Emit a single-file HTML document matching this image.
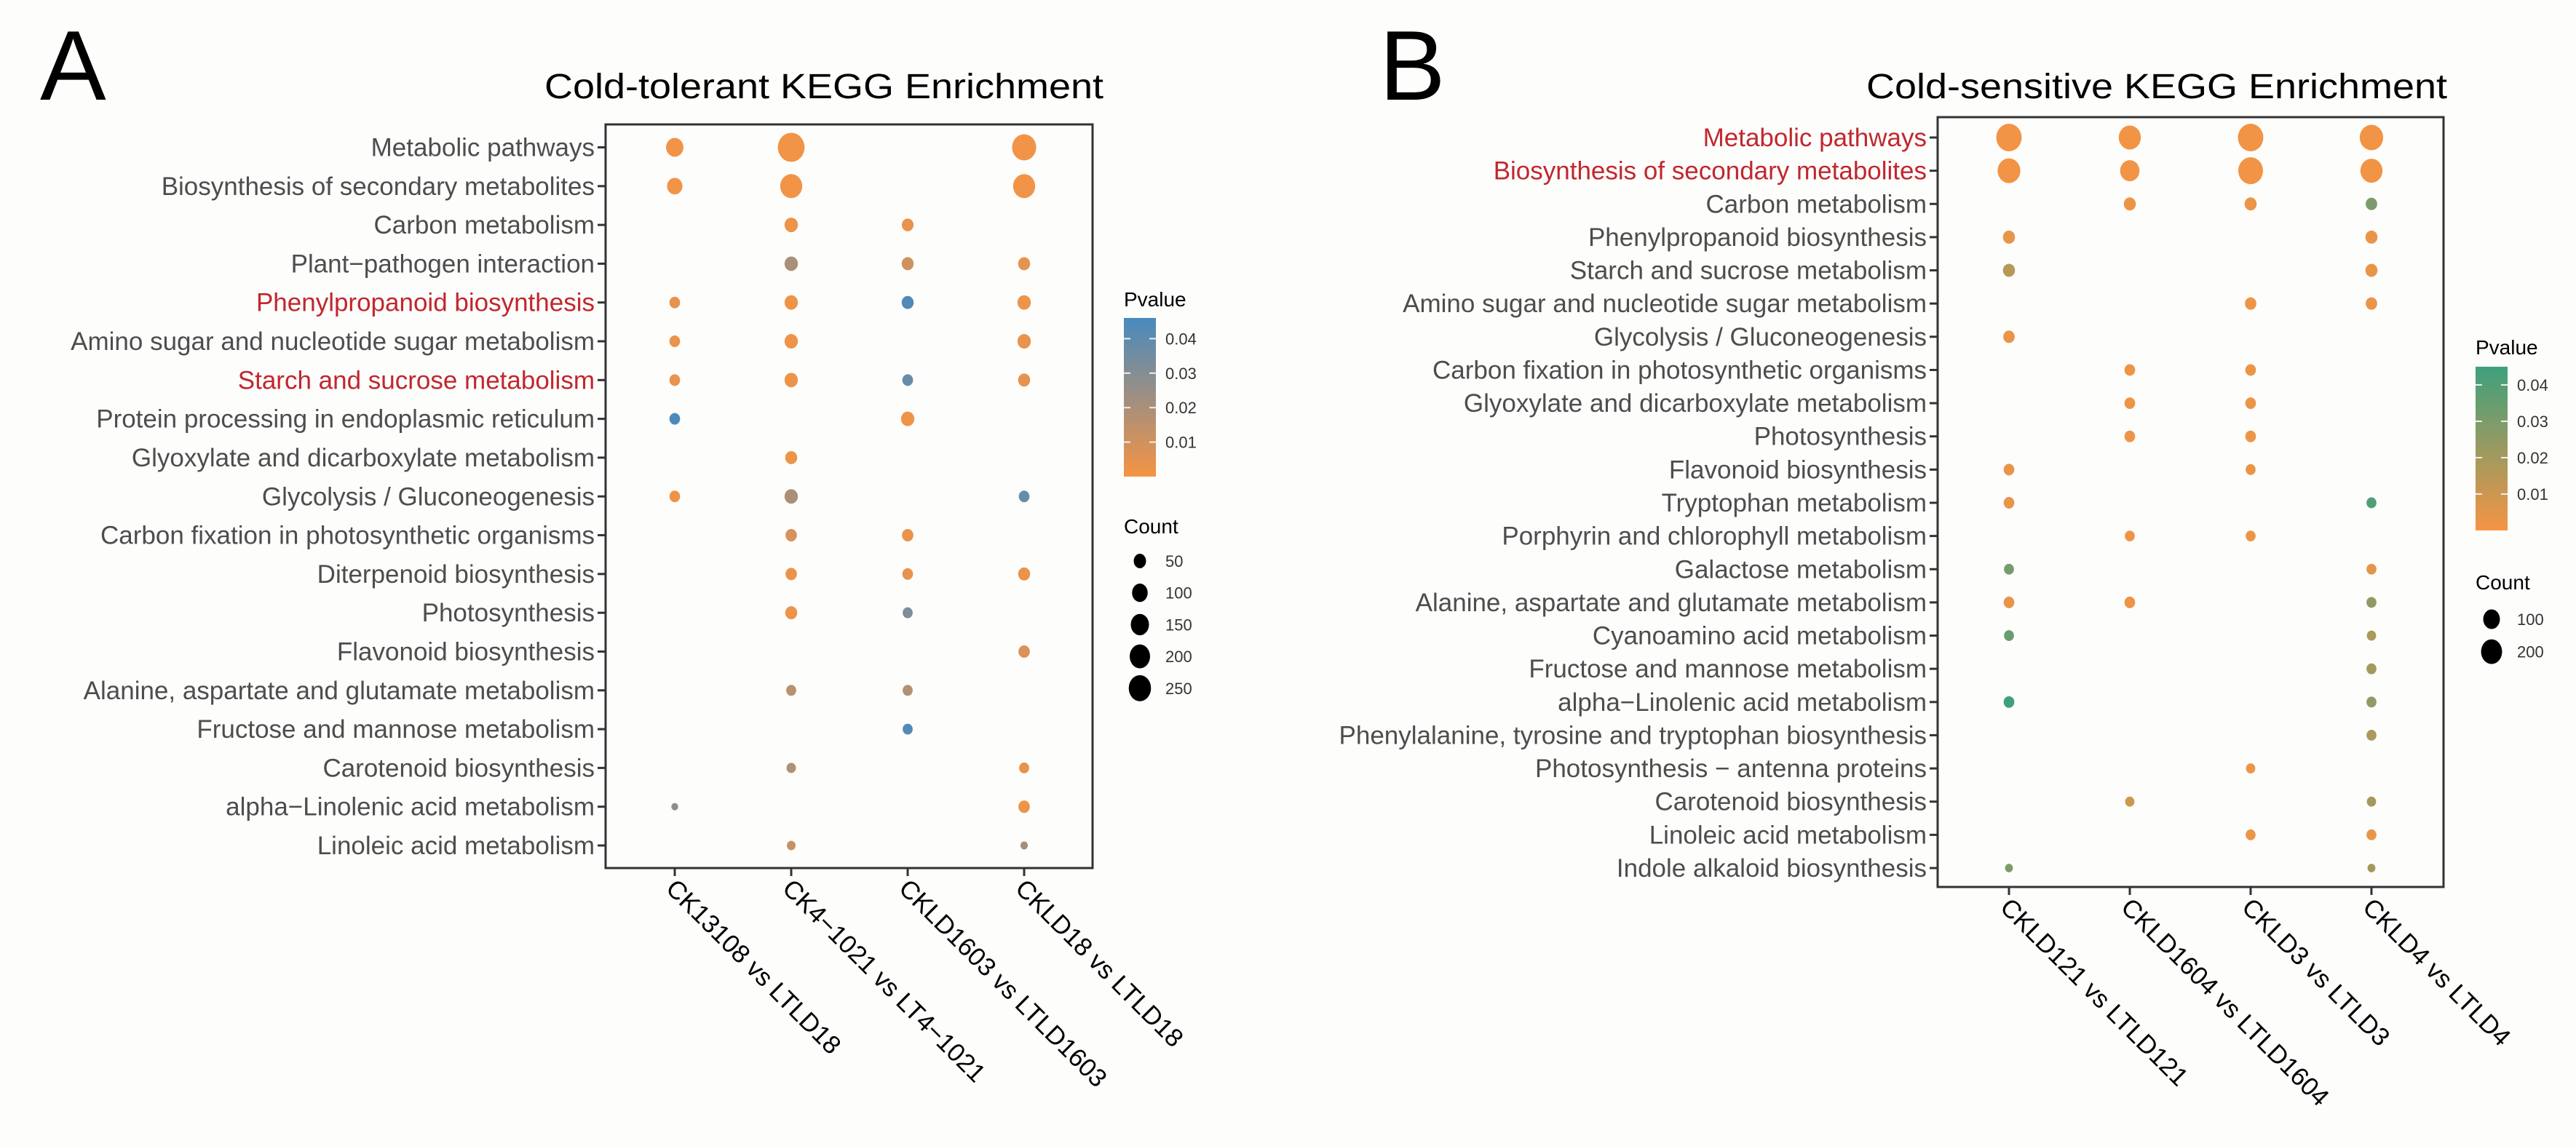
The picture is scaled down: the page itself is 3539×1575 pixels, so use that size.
<!DOCTYPE html>
<html><head><meta charset="utf-8">
<style>
html,body{margin:0;padding:0;background:#fdfdfc;}
svg{display:block;font-family:"Liberation Sans",Arial,sans-serif;}
</style></head>
<body>
<svg id="fig" width="3539" height="1575" viewBox="0 0 3539 1575" xmlns="http://www.w3.org/2000/svg">
<rect x="0" y="0" width="3539" height="1575" fill="#fdfdfc"/>
<text x="55" y="137" font-size="136" fill="#000">A</text>
<text x="748" y="135" font-size="48" fill="#000" textLength="768" lengthAdjust="spacingAndGlyphs">Cold-tolerant KEGG Enrichment</text>
<text x="1895" y="137" font-size="136" fill="#000">B</text>
<text x="2564" y="135" font-size="48" fill="#000" textLength="798" lengthAdjust="spacingAndGlyphs">Cold-sensitive KEGG Enrichment</text>
<g id="panelA"></g>
<g id="panelB"></g>
</svg>
<script>
// ---------- Panel A data ----------
const catsA = ["Metabolic pathways","Biosynthesis of secondary metabolites","Carbon metabolism","Plant\u2212pathogen interaction","Phenylpropanoid biosynthesis","Amino sugar and nucleotide sugar metabolism","Starch and sucrose metabolism","Protein processing in endoplasmic reticulum","Glyoxylate and dicarboxylate metabolism","Glycolysis / Gluconeogenesis","Carbon fixation in photosynthetic organisms","Diterpenoid biosynthesis","Photosynthesis","Flavonoid biosynthesis","Alanine, aspartate and glutamate metabolism","Fructose and mannose metabolism","Carotenoid biosynthesis","alpha\u2212Linolenic acid metabolism","Linoleic acid metabolism"];
const redA = ["Phenylpropanoid biosynthesis","Starch and sucrose metabolism"];
const groupsA = ["CK13108 vs LTLD18","CK4\u22121021 vs LT4\u22121021","CKLD1603 vs LTLD1603","CKLD18 vs LTLD18"];
// counts per group (null = no dot)
const countA1 = [107,76,null,null,24,24,24,24,null,24,null,null,null,null,null,null,null,3,null];
const countA2 = [325,202,50,50,50,50,50,null,36,50,30,30,36,null,19,null,15,null,11];
const countA3 = [null,null,33,36,36,null,24,50,null,null,30,24,19,null,19,19,null,null,null];
const countA4 = [251,202,null,36,50,50,36,null,null,24,null,36,null,30,null,null,19,30,5];
const pA1 = [0.001,0.001,null,null,0.004,0.003,0.003,0.045,null,0.002,null,null,null,null,null,null,null,0.028,null];
const pA2 = [0.001,0.001,0.002,0.02,0.002,0.002,0.002,null,0.002,0.02,0.008,0.003,0.002,null,0.016,null,0.018,null,0.012];
const pA3 = [null,null,0.003,0.01,0.044,null,0.038,0.002,null,null,0.003,0.004,0.032,null,0.018,0.043,null,null,null];
const pA4 = [0.001,0.001,null,0.004,0.002,0.003,0.004,null,null,0.038,null,0.003,null,0.007,null,null,0.004,0.002,0.022];
const pTicksA = [0.01,0.02,0.03,0.04];
const cntTicksA = [50,100,150,200,250];

// ---------- Panel B data ----------
const catsB = ["Metabolic pathways","Biosynthesis of secondary metabolites","Carbon metabolism","Phenylpropanoid biosynthesis","Starch and sucrose metabolism","Amino sugar and nucleotide sugar metabolism","Glycolysis / Gluconeogenesis","Carbon fixation in photosynthetic organisms","Glyoxylate and dicarboxylate metabolism","Photosynthesis","Flavonoid biosynthesis","Tryptophan metabolism","Porphyrin and chlorophyll metabolism","Galactose metabolism","Alanine, aspartate and glutamate metabolism","Cyanoamino acid metabolism","Fructose and mannose metabolism","alpha\u2212Linolenic acid metabolism","Phenylalanine, tyrosine and tryptophan biosynthesis","Photosynthesis \u2212 antenna proteins","Carotenoid biosynthesis","Linoleic acid metabolism","Indole alkaloid biosynthesis"];
const redB = ["Metabolic pathways","Biosynthesis of secondary metabolites"];
const groupsB = ["CKLD121 vs LTLD121","CKLD1604 vs LTLD1604","CKLD3 vs LTLD3","CKLD4 vs LTLD4"];
const countB1 = [272,200,null,22,22,null,17,null,null,null,12,12,null,8,12,8,null,12,null,null,null,null,1];
const countB2 = [184,125,22,null,null,null,null,12,12,12,null,null,8,null,12,null,null,null,null,null,5,null,null];
const countB3 = [272,253,22,null,null,17,null,12,12,12,8,null,8,null,null,null,null,null,null,5,null,8,null];
const countB4 = [217,184,17,22,22,17,null,null,null,null,null,8,null,8,8,5,8,8,8,null,5,8,1];
const pB1 = [0.001,0.001,null,0.003,0.015,null,0.003,null,null,null,0.003,0.003,null,0.032,0.003,0.035,null,0.045,null,null,null,null,0.03];
const pB2 = [0.001,0.001,0.002,null,null,null,null,0.002,0.002,0.002,null,null,0.002,null,0.002,null,null,null,null,null,0.01,null,null];
const pB3 = [0.001,0.001,0.002,null,null,0.002,null,0.002,0.002,0.002,0.003,null,0.002,null,null,null,null,null,null,0.002,null,0.002,null];
const pB4 = [0.001,0.001,0.03,0.003,0.003,0.003,null,null,null,null,null,0.04,null,0.004,0.025,0.018,0.02,0.025,0.018,null,0.02,0.003,0.02];
const pTicksB = [0.01,0.02,0.03,0.04];
const cntTicksB = [100,200];

const NS = "http://www.w3.org/2000/svg";
function mk(tag, attrs, parent){const e=document.createElementNS(NS,tag);for(const k in attrs)e.setAttribute(k,attrs[k]);parent.appendChild(e);return e;}
function lerpColor(c0,c1,t){t=Math.max(0,Math.min(1,t));return "rgb("+c0.map((v,i)=>Math.round(v+(c1[i]-v)*t)).join(",")+")";}

function drawPanel(cfg){
  const g=document.getElementById(cfg.id);
  const n=cfg.cats.length;
  const yScale=i=>cfg.y0+i*(cfg.y1-cfg.y0)/(n-1);
  const xScale=j=>cfg.x0+j*cfg.dx;
  const pColor=p=>lerpColor(cfg.cLow,cfg.cHigh,p/cfg.pMax);
  const size=c=>Math.max(8,cfg.a+cfg.b*Math.sqrt(c));
  // box
  const box=mk("rect",{x:cfg.bx0,y:cfg.by0,width:cfg.bx1-cfg.bx0,height:cfg.by1-cfg.by0,fill:"none",stroke:"#333",  "stroke-width":3},g);
  
  
  // y labels
  cfg.cats.forEach((c,i)=>{
    const y=yScale(i);
    const t=mk("line",{x1:cfg.bx0-11,x2:cfg.bx0,y1:y,y2:y,stroke:"#333","stroke-width":3},g);
    
    
    const tx=mk("text",{x:cfg.bx0-15,y:y+12,"font-size":cfg.fs,"text-anchor":"end",fill:cfg.red.includes(c)?"#c1272d":"#4d4d4d"},g);
    tx.textContent=c;
    
    
  });
  // x labels
  cfg.groups.forEach((gname,j)=>{
    const x=xScale(j);
    const t=mk("line",{x1:x,x2:x,y1:cfg.by1,y2:cfg.by1+11,stroke:"#333","stroke-width":3},g);
    
    
    const tx=mk("text",{x:0,y:0,"font-size":35,fill:"#000",transform:"translate("+(x-14)+","+(cfg.by1+30)+") rotate(45)"},g);
    tx.textContent=gname;
    
    
  });
  // dots
  cfg.counts.forEach((arr,j)=>{
    arr.forEach((c,i)=>{
      if(c===null)return;
      const d=size(c);
      const e=mk("ellipse",{cx:xScale(j),cy:yScale(i),rx:d/2*0.92,ry:d/2,fill:pColor(cfg.ps[j][i])},g);
      
      
    });
  });
  // p legend
  const lt=mk("text",{x:cfg.lx,y:cfg.pTitleY,"font-size":28,fill:"#000"},g);
  lt.textContent="Pvalue";
  
  
  const gradId=cfg.id+"grad";
  const defs=mk("defs",{},g);
  const lg=mk("linearGradient",{id:gradId,x1:0,y1:1,x2:0,y2:0},defs);
  const topT=(cfg.barTop-cfg.barBot)/(cfg.tickSpan); // placeholder
  mk("stop",{offset:"0","stop-color":pColor(0)},lg);
  mk("stop",{offset:"1","stop-color":pColor(cfg.pMax)},lg);
  const bar=mk("rect",{x:cfg.lx,y:cfg.barTop,width:44,height:cfg.barBot-cfg.barTop,fill:"url(#"+gradId+")"},g);
  
  
  const pY=p=>cfg.barBot-(p/cfg.pMax)*(cfg.barBot-cfg.barTop);
  cfg.pTicks.forEach(p=>{
    const y=pY(p);
    mk("line",{x1:cfg.lx,x2:cfg.lx+9,y1:y,y2:y,stroke:"#eee","stroke-width":2},g);
    mk("line",{x1:cfg.lx+35,x2:cfg.lx+44,y1:y,y2:y,stroke:"#eee","stroke-width":2},g);
    const tx=mk("text",{x:cfg.lx+57,y:y+8,"font-size":22,fill:"#333"},g);
    tx.textContent=p.toFixed(2);
    
    
  });
  // count legend
  const ct=mk("text",{x:cfg.lx,y:cfg.cTitleY,"font-size":28,fill:"#000"},g);
  ct.textContent="Count";
  
  
  cfg.cntTicks.forEach((c,k)=>{
    const y=cfg.cY0+k*cfg.cDy;
    const d=size(c);
    const e=mk("ellipse",{cx:cfg.lx+22,cy:y,rx:d/2*0.85,ry:d/2,fill:"#000"},g);
    
    
    const tx=mk("text",{x:cfg.lx+57,y:y+8,"font-size":22,fill:"#333"},g);
    tx.textContent=String(c);
    
    
  });
}

drawPanel({id:"panelA",cats:catsA,red:redA,groups:groupsA,counts:[countA1,countA2,countA3,countA4],ps:[pA1,pA2,pA3,pA4],
  bx0:832,bx1:1501,by0:171,by1:1193,y0:202.5,y1:1162,x0:927,dx:160,fs:35,
  cLow:[245,148,68],cHigh:[72,138,190],pMax:0.046,a:7,b:1.83,
  lx:1544,pTitleY:421,barTop:437,barBot:655,tickSpan:1,pTicks:pTicksA,
  cTitleY:733,cntTicks:cntTicksA,cY0:771,cDy:43.7});
drawPanel({id:"panelB",cats:catsB,red:redB,groups:groupsB,counts:[countB1,countB2,countB3,countB4],ps:[pB1,pB2,pB3,pB4],
  bx0:2662,bx1:3357,by0:161,by1:1219,y0:189,y1:1193,x0:2760,dx:166,fs:35,
  cLow:[245,148,68],cHigh:[62,160,125],pMax:0.045,a:10.1,b:1.69,
  lx:3401,pTitleY:487,barTop:504,barBot:729,tickSpan:1,pTicks:pTicksB,
  cTitleY:810,cntTicks:cntTicksB,cY0:851,cDy:44.6});
</script>
</body></html>
